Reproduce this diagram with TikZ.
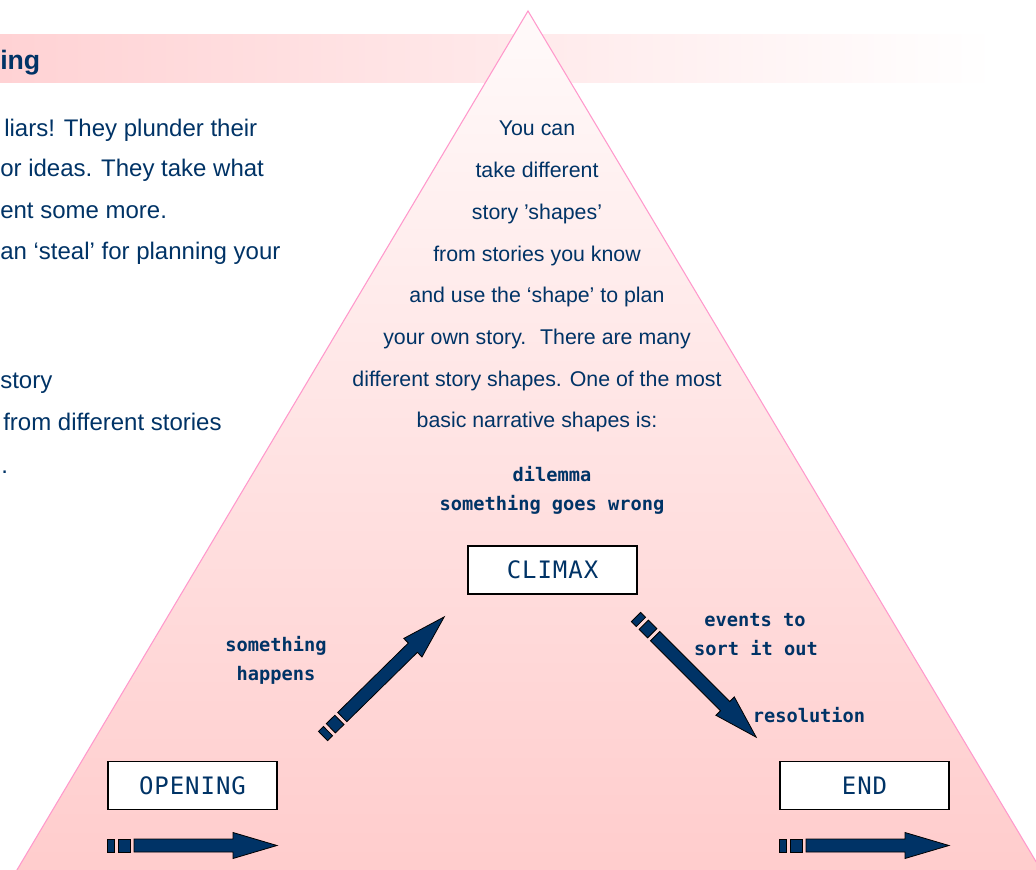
\documentclass[tikz,border=0pt]{standalone}
\usepackage{fontspec}
\setmainfont{Liberation Sans}
\newfontfamily\labelfont{DejaVu Sans Mono}
\newfontfamily\boxfont[LetterSpace=4]{DejaVu Sans Mono}
\usetikzlibrary{calc}
\definecolor{storyblue}{HTML}{003366}
\definecolor{edgepink}{HTML}{FF99CC}
\definecolor{basepink}{HTML}{FFCCCC}
\definecolor{toppink}{HTML}{FFFAFA}
\definecolor{bandpink}{HTML}{FFD2D4}
\tikzset{
    plaintext/.style={anchor=base west, inner sep=0pt, text=storyblue,
        font=\fontsize{18}{21}\selectfont},
    shapetext/.style={anchor=base, inner sep=0pt, text=storyblue,
        font=\fontsize{16}{19}\selectfont},
    steplabel/.style={anchor=base, inner sep=0pt, text=storyblue,
        font=\labelfont\bfseries\fontsize{14}{16}\selectfont},
    stagebox/.style={draw=black, line width=1.1pt, fill=white,
        minimum width=126.75pt, minimum height=36pt, inner sep=0pt,
        text=storyblue, font=\boxfont\fontsize{18}{21}\selectfont},
    blockarrow/.style={fill=storyblue, draw=black, line width=0.6pt}
}
\newcommand{\storyarrow}[2]{% tail point, angle
\begin{scope}[shift={#1}, rotate=#2]
    \filldraw[blockarrow] (0,-6.5) rectangle (7,6.5);
    \filldraw[blockarrow] (11,-6.5) rectangle (23,6.5);
    \filldraw[blockarrow] (27,-6.5) -- (126,-6.5) -- (126,-13) -- (170,0)
        -- (126,13) -- (126,6.5) -- (27,6.5) -- cycle;
\end{scope}}

\begin{document}
\begin{tikzpicture}[x=0.75pt, y=-0.75pt]
\useasboundingbox (0,0) rectangle (1036,870);
\clip (0,0) rectangle (1036,870);
\fill[white] (0,0) rectangle (1036,870);

% title band
\shade[left color=bandpink, right color=white] (0,35) rectangle (995,83);
\node[plaintext, font=\bfseries\fontsize{20}{24}\selectfont] (title) at (0,70) {ing};

% left text
\node[plaintext] (liars) at (4,137) {liars! They plunder their};
\node[plaintext] (ideas) at (0,177) {or ideas. They take what};
\node[plaintext] (more) at (0,219) {ent some more.};
\node[plaintext] (steal) at (0,260) {an ‘steal’ for planning your};
\node[plaintext] (story) at (0,388) {story};
\node[plaintext] (stories) at (3,430) {from different stories};
\node[plaintext] (dot) at (1,473) {.};

% pyramid
\coordinate (apex) at (528,11);
\coordinate (baseleft) at (11,880);
\coordinate (baseright) at (1047,880);
\shadedraw[draw=edgepink, line width=0.8pt, top color=toppink, bottom color=basepink]
    (apex) -- (baseright) -- (baseleft) -- cycle;

\foreach \txt [count=\i from 0] in {You can, take different, story ’shapes’,
    from stories you know, and use the ‘shape’ to plan,
    your own story.~ There are many, different story shapes. One of the most,
    basic narrative shapes is:}
    \node[shapetext] (shape\i) at (537,136+41.7*\i) {\txt};

\node[steplabel] (dilemma) at (552,481) {dilemma};
\node[steplabel] (wrong) at (552,510) {something goes wrong};

% stages
\node[stagebox] (climax) at (552.5,570) {CLIMAX};
\node[stagebox] (opening) at (192.5,785.5) {OPENING};
\node[stagebox] (end) at (864.5,785.5) {END};

\node[steplabel] (happens1) at (276,651) {something};
\node[steplabel] (happens2) at (276,680) {happens};
\node[steplabel] (events1) at (755,626) {events to};
\node[steplabel] (events2) at (756,655) {sort it out};
\node[steplabel] (resolution) at (809,722) {resolution};

% arrows
\coordinate (openarrow) at (107,845.5);
\coordinate (risearrow) at (323,736);
\coordinate (fallarrow) at (636,617);
\coordinate (endarrow) at (779,845.5);
\storyarrow{(openarrow)}{0}
\storyarrow{(risearrow)}{44.5}
\storyarrow{(fallarrow)}{-45}
\storyarrow{(endarrow)}{0}
\end{tikzpicture}
\end{document}
